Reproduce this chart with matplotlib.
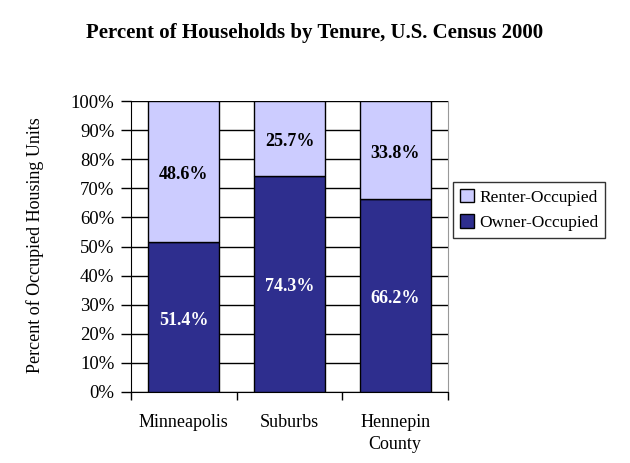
import matplotlib
matplotlib.use("Agg")
import matplotlib.pyplot as plt
from matplotlib.ticker import FuncFormatter, FixedLocator
import matplotlib.transforms as mtransforms
import numpy as np

categories = ["Minneapolis", "Suburbs", "Hennepin\nCounty"]
owner = [51.4, 74.3, 66.2]
renter = [48.6, 25.7, 33.8]
yticks = list(range(0, 101, 10))

plt.rcParams['font.family'] = ['Liberation Serif', 'DejaVu Serif']

fig = plt.figure(figsize=(6.3, 4.63), dpi=100)
W, H = 630, 463
ax = fig.add_axes([131 / W, 1 - 392 / H, (448 - 131) / W, (392 - 101) / H])

x = np.arange(len(categories))
dark = "#2E2E8E"
light = "#CCCCFF"
bw = 0.67
b1 = ax.bar(x, owner, width=bw, color=dark, edgecolor="black", linewidth=1, zorder=3, label="Owner-Occupied")
b2 = ax.bar(x, renter, width=bw, bottom=owner, color=light, edgecolor="black", linewidth=1, zorder=3, label="Renter-Occupied")

shift = ax.transData + mtransforms.ScaledTranslation(0, -3 / 100, fig.dpi_scale_trans)
for i in range(len(categories)):
    ax.text(x[i], owner[i] / 2, f"{owner[i]:.1f}%", ha="center", va="center",
            color="white", fontsize=13, fontweight="bold", zorder=4, transform=shift)
    ax.text(x[i], owner[i] + renter[i] / 2, f"{renter[i]:.1f}%", ha="center", va="center",
            color="black", fontsize=13, fontweight="bold", zorder=4, transform=shift)

ax.set_xlim(-0.5, len(categories) - 0.5)
ax.set_ylim(0, 100)
ax.yaxis.set_major_locator(FixedLocator(yticks))
ax.yaxis.set_major_formatter(FuncFormatter(lambda v, p: f"{v:.0f}%"))
ax.grid(axis="y", color="black", linewidth=1, zorder=0)
ax.set_xticks(x)
ax.set_xticklabels(categories, fontsize=13, linespacing=1.4)
ax.tick_params(axis="x", length=0, pad=16)
ax.set_xticks(np.arange(-0.5, len(categories), 1), minor=True)
ax.tick_params(axis="x", which="minor", length=6, width=1, color="black", direction="out")
ax.tick_params(axis="y", length=7, width=1, direction="out", labelsize=13.5, pad=5)

ax.spines["top"].set_visible(False)
ax.spines["right"].set_color("#999999")
ax.spines["left"].set_color("black")
ax.spines["bottom"].set_color("black")

ax.set_ylabel("Percent of Occupied Housing Units", fontsize=13)
ax.yaxis.set_label_coords(44 / W, 1 - 245 / H, transform=fig.transFigure)

fig.text(315 / W, 1 - 33 / H, "Percent of Households by Tenure, U.S. Census 2000",
         ha="center", va="center", fontsize=15, fontweight="bold")

handles = [b2, b1]
leg = ax.legend(handles, ["Renter-Occupied", "Owner-Occupied"], loc="center left",
                bbox_to_anchor=(453 / W, 1 - 210 / H), bbox_transform=fig.transFigure,
                fontsize=12.5, frameon=True, fancybox=False, edgecolor="black",
                handlelength=0.8, handleheight=0.8, handletextpad=0.3,
                borderpad=0.4, labelspacing=0.5, borderaxespad=0)
leg.get_frame().set_linewidth(1)

fig.savefig("out.png", dpi=100)
